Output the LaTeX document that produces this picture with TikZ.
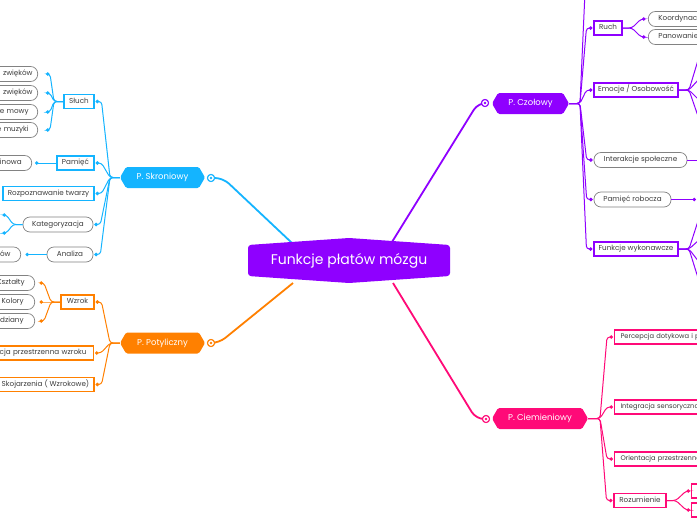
\documentclass[tikz,border=0pt]{standalone}
\usepackage{fontspec}
\setmainfont{Poppins}
\usetikzlibrary{shapes.symbols,arrows.meta}
\definecolor{cpur}{RGB}{143,0,255}
\definecolor{ccyan}{RGB}{20,180,255}
\definecolor{corg}{RGB}{255,128,0}
\definecolor{cpink}{RGB}{255,10,120}
\definecolor{cgray}{RGB}{130,130,130}
\definecolor{ctext}{RGB}{60,60,60}
\begin{document}
\begin{tikzpicture}[x=1pt,y=-1pt,
  hexa/.style={signal, signal to=west and east, signal pointer angle=120, fill=#1, text=white,
    font=\fontsize{8.5}{10}\selectfont, minimum height=21pt, inner sep=0pt, rounded corners=1.5pt},
  smalltext/.style={font=\fontsize{7.2}{8}\selectfont, text=ctext, text height=5pt, text depth=1.5pt},
  gnode/.style={smalltext, draw=cgray, line width=0.7pt, fill=white, rounded corners=7pt, minimum height=15pt, inner sep=0pt},
  bnode/.style={smalltext, draw=#1, line width=1.1pt, fill=white, minimum height=14pt, inner sep=0pt},
  narrowtext/.style={font=\fontsize{6.7}{8}\selectfont},
  mainline/.style={draw=#1, line width=1.8pt, rounded corners=8pt},
  br/.style={draw=#1, line width=1pt, rounded corners=3pt, -{Circle[length=3.5pt, fill=#1]}},
  brn/.style={draw=#1, line width=1pt, rounded corners=3pt},
  hub/.style={circle, draw=#1, line width=1pt, fill=white, minimum size=7pt, inner sep=0pt,
    path picture={\fill[#1] (path picture bounding box.center) circle (1.3pt);}},
]
\useasboundingbox (0,0) rectangle (697,520);
\fill[white] (0,0) rectangle (697,520);

% hub circles
\node[hub=ccyan] (skrH) at (211,178) {};
\node[hub=corg] (potH) at (211,343) {};
\node[hub=cpur] (czoH) at (485,103) {};
\node[hub=cpink] (cieH) at (486,419) {};

% main connectors (under the central node)
\coordinate (cA) at (292,243);
\coordinate (cB) at (293,283);
\coordinate (cC) at (392,242);
\coordinate (cD) at (393,283);
\draw[mainline=ccyan] (cA) -- (223,178) -- (skrH.east);
\draw[mainline=corg] (cB) -- (219,343) -- (potH.east);
\draw[mainline=cpur] (cC) -- (478,103) -- (czoH.west);
\draw[mainline=cpink] (cD) -- (476,419) -- (cieH.west);
\node[hub=ccyan] at (skrH) {};
\node[hub=corg] at (potH) {};
\node[hub=cpur] at (czoH) {};
\node[hub=cpink] at (cieH) {};

% central node
\fill[cpur, rounded corners=3pt] (248,245) -- (349,238) -- (450,245) -- (450,276) -- (349,283) -- (248,276) -- cycle;
\node[text=white, font=\fontsize{14}{16}\selectfont] (c) at (349,261) {Funkcje płatów mózgu};

% ---------- P. Skroniowy ----------
\node[hexa=ccyan, minimum width=85pt] (skr) at (162.5,177.5) {P. Skroniowy};
\node[bnode=ccyan, minimum width=30pt] (sluch) at (79,101.5) {Słuch};
\node[bnode=ccyan, minimum width=37pt] (pam) at (75.5,163) {Pamięć};
\node[bnode=ccyan, minimum width=91pt] (rozp) at (48.5,193.5) {Rozpoznawanie twarzy};
\node[gnode, minimum width=70pt] (kat) at (58,224.5) {Kategoryzacja};
\node[gnode, minimum width=46pt] (anal) at (70,254.5) {Analiza};
\node[gnode, anchor=east, text width=60pt, align=right, inner xsep=5pt] (s1) at (38,74) {zwięków};
\node[gnode, anchor=east, text width=60pt, align=right, inner xsep=5pt] (s2) at (38,93) {zwięków};
\node[gnode, anchor=east, text width=60pt, align=right, inner xsep=9pt] (s3) at (38,112) {ie mowy};
\node[gnode, anchor=east, text width=60pt, align=right, inner xsep=9pt] (s4) at (38,130) {e muzyki};
\node[gnode, anchor=east, text width=60pt, align=right, inner xsep=10pt] (m1) at (32,163) {linowa};
\node[gnode, anchor=east, text width=60pt, align=right, inner xsep=10pt] (a1) at (21,254.5) {ów};
\coordinate (k1) at (2.5,215);
\coordinate (k2) at (2.5,233);
\coordinate (skrS) at (110,177.5);
\foreach \n in {sluch,pam,rozp,kat,anal}
  \draw[br=ccyan] (skr.west) -- (skrS) -- ([xshift=7pt]\n.east) -- ([xshift=1pt]\n.east);
\coordinate (slS) at (54,101.5);
\foreach \n in {s1,s2,s3,s4}
  \draw[br=ccyan] (sluch.west) -- (slS) -- ([xshift=12pt]\n.east) -- ([xshift=8pt]\n.east);
\draw[br=ccyan] (pam.west) -- ([xshift=3pt]m1.east);
\draw[br=ccyan] (anal.west) -- ([xshift=4.5pt]a1.east);
\coordinate (katS) at (13,224.5);
\foreach \n in {k1,k2}
  \draw[br=ccyan] (kat.west) -- (katS) -- ([xshift=4pt]\n) -- (\n);

% ---------- P. Potyliczny ----------
\node[hexa=corg, minimum width=85pt] (pot) at (162.5,343) {P. Potyliczny};
\node[bnode=corg, minimum width=33pt] (wz) at (77.5,302) {Wzrok};
\node[bnode=corg, anchor=east, text width=130pt, align=right, inner xsep=7pt] (per) at (94,353) {epcja przestrzenna wzroku};
\node[bnode=corg, minimum width=97pt] (skoj) at (45.5,384.5) {Skojarzenia ( Wzrokowe)};
\node[gnode, anchor=east, text width=60pt, align=right, inner xsep=10pt] (w1) at (35,283) {Kształty};
\node[gnode, anchor=east, text width=60pt, align=right, inner xsep=11pt] (w2) at (35,302) {Kolory};
\node[gnode, anchor=east, text width=60pt, align=right, inner xsep=11pt] (w3) at (35,321) {idziany};
\coordinate (potS) at (110,343);
\foreach \n in {wz,per,skoj}
  \draw[br=corg] (pot.west) -- (potS) -- ([xshift=7pt]\n.east) -- ([xshift=1pt]\n.east);
\coordinate (wzS) at (51,302);
\foreach \n in {w1,w2,w3}
  \draw[br=corg] (wz.west) -- (wzS) -- ([xshift=9pt]\n.east) -- ([xshift=4.5pt]\n.east);

% ---------- P. Czolowy ----------
\node[hexa=cpur, minimum width=77pt] (czo) at (530.5,103.5) {P. Czołowy};
\node[bnode=cpur, minimum width=28pt] (ruch) at (608,28) {Ruch};
\node[bnode=cpur, minimum width=84pt] (emo) at (636,90) {Emocje / Osobowość};
\node[gnode, minimum width=93pt] (inter) at (640.5,160) {Interakcje społeczne};
\node[gnode, minimum width=77pt] (pamr) at (632.5,199.5) {Pamięć robocza};
\node[bnode=cpur, minimum width=84pt] (fw) at (636,249) {Funkcje wykonawcze};
\node[gnode, anchor=west, text width=80pt, align=left, inner xsep=10pt] (r1) at (648,19) {Koordynacja};
\node[gnode, anchor=west, text width=80pt, align=left, inner xsep=10pt] (r2) at (648,37) {Panowanie};
\coordinate (czT) at (585,-8);
\coordinate (czoS) at (580,103.5);
\draw[brn=cpur] (czo.east) -- (czoS) -- (czT);
\foreach \n in {ruch,emo,inter,pamr,fw}
  \draw[br=cpur] (czo.east) -- (czoS) -- ([xshift=-7pt]\n.west) -- ([xshift=-1pt]\n.west);
\coordinate (ruS) at (632,28);
\foreach \n in {r1,r2}
  \draw[br=cpur] (ruch.east) -- (ruS) -- ([xshift=-7pt]\n.west) -- ([xshift=-2.5pt]\n.west);
\coordinate (emS) at (689,90);
\coordinate (e1) at (699,57);
\coordinate (e2) at (699,79);
\coordinate (e3) at (699,100);
\coordinate (e4) at (699,119);
\foreach \n in {e1,e2,e3,e4}
  \draw[brn=cpur] (emo.east) -- (emS) -- (\n);
\coordinate (i1) at (702,160);
\draw[brn=cpur] (inter.east) -- (i1);
\coordinate (p1) at (696,199.5);
\draw[br=cpur] (pamr.east) -- (p1);
\coordinate (fwS) at (689,249);
\coordinate (f1) at (699,218);
\coordinate (f2) at (699,240);
\coordinate (f3) at (699,262);
\coordinate (f4) at (699,281);
\foreach \n in {f1,f2,f3,f4}
  \draw[brn=cpur] (fw.east) -- (fwS) -- (\n);

% ---------- P. Ciemieniowy ----------
\node[hexa=cpink, minimum width=96pt] (cie) at (540,418.5) {P. Ciemieniowy};
\node[bnode=cpink, narrowtext, anchor=west, text width=140pt, align=left, inner xsep=6pt] (perc) at (614,337) {Percepcja dotykowa i p};
\node[bnode=cpink, narrowtext, anchor=west, text width=140pt, align=left, inner xsep=6pt] (integ) at (614,407) {Integracja sensoryczna};
\node[bnode=cpink, narrowtext, anchor=west, text width=140pt, align=left, inner xsep=6pt] (orient) at (614,459) {Orientacja przestrzenna};
\node[bnode=cpink, minimum width=52pt] (rozum) at (640,500.5) {Rozumienie};
\node[bnode=cpink, anchor=west, minimum width=20pt] (z1) at (691,491) {};
\node[bnode=cpink, anchor=west, minimum width=20pt] (z2) at (691,510) {};
\coordinate (cieS) at (600,418.5);
\foreach \n in {perc,integ,orient,rozum}
  \draw[br=cpink] (cie.east) -- (cieS) -- ([xshift=-7pt]\n.west) -- ([xshift=-1pt]\n.west);
\coordinate (roS) at (676,500.5);
\foreach \n in {z1,z2}
  \draw[br=cpink] (rozum.east) -- (roS) -- ([xshift=-5pt]\n.west) -- ([xshift=-1pt]\n.west);
\end{tikzpicture}
\end{document}
